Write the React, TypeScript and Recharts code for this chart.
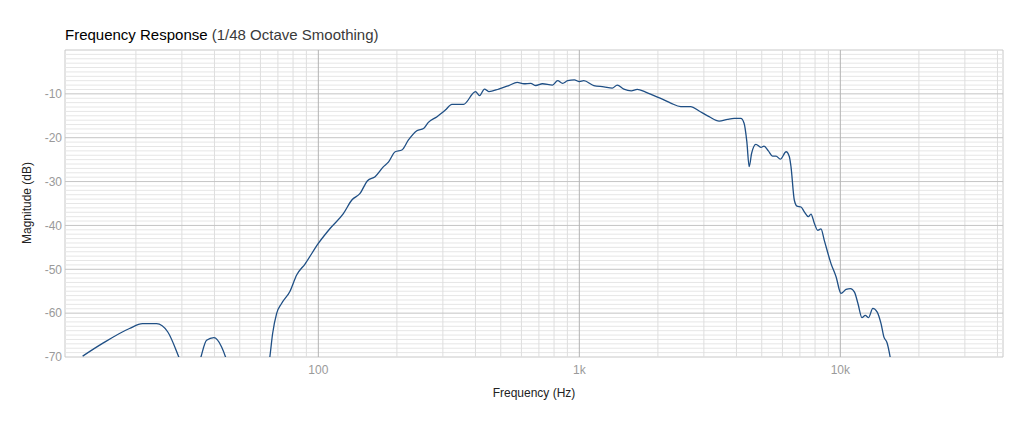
import { LineChart, Line, XAxis, YAxis, ReferenceLine, ReferenceArea } from 'recharts';

// Frequency points (Hz), 1/48 octave smoothed response
const FREQ_HZ = [
  12.5, 14.9, 18.9, 21.2, 24.0, 26.5, 29.2, 31, 34,
  35.5, 37.3, 39.8, 42.6, 44.1, 46, 63, 65.2, 66.8, 69.2,
  72.3, 77.9, 82.6, 88.9, 100, 110.9, 124.7, 134.4, 144.5, 154.3,
  165, 177.7, 185.9, 197, 209, 221.5, 238.5, 253, 264, 285,
  306.5, 325, 360, 400, 415, 433, 450, 491, 537, 578,
  614, 651, 681, 722, 789, 826, 863, 902, 957, 1000,
  1040, 1136, 1242, 1337, 1397, 1481, 1581, 1667, 1795, 1932,
  2080, 2240, 2447, 2675, 2877, 3143, 3433, 3697, 3920, 4156,
  4278, 4383, 4475, 4570, 4747, 4963, 5100, 5300, 5500, 5670,
  5890, 6200, 6375, 6470, 6662, 6825, 7070, 7280, 7540, 7720,
  7950, 8190, 8430, 8680, 9210, 9630, 10060, 10520, 10930, 11330,
  11680, 12100, 12460, 12830, 13320, 13830, 14320, 14680, 15110, 15520,
  15900,
];

// Magnitude (dB) for each frequency above
const MAGNITUDE_DB = [
  -69.8, -66.9, -63.5, -62.4, -62.4, -64.3, -70, -74, -74,
  -70, -66.2, -65.6, -67.7, -70, -74, -76, -70, -64.7, -60.1,
  -57.8, -55.0, -51.3, -48.8, -44.1, -40.7, -37.3, -34.2, -32.7, -29.8,
  -28.9, -26.6, -25.5, -23.2, -22.8, -20.5, -18.4, -17.9, -16.5, -15.2,
  -13.7, -12.4, -12.4, -9.5, -10.4, -8.9, -9.5, -8.9, -8.1, -7.4,
  -7.7, -7.6, -8.1, -7.7, -8.0, -7.0, -7.6, -7.0, -6.8, -7.2,
  -7.0, -8.1, -8.4, -8.7, -8.0, -8.9, -9.3, -9.0, -9.6, -10.4,
  -11.2, -12.1, -12.9, -12.9, -13.9, -15.2, -16.2, -15.8, -15.6, -15.6,
  -16.7, -20.9, -26.6, -23.6, -21.5, -22.2, -21.9, -23.0, -24.2, -24.2,
  -24.9, -23.2, -24.3, -26.6, -34.2, -35.6, -35.8, -36.9, -38.0, -37.4,
  -39.5, -41.1, -40.8, -43.4, -48.7, -51.7, -55.5, -54.6, -54.4, -55.2,
  -57.8, -61.0, -60.5, -61.0, -58.9, -59.7, -62.4, -65.4, -66.8, -70,
  -74,
];

const X_TICKS = [100, 1000, 10000];
const X_TICK_LABELS = ['100', '1k', '10k'];
const Y_TICKS = [-70, -60, -50, -40, -30, -20, -10];
const X_DOMAIN = [10.7, 42000];
const Y_DOMAIN = [-70, 0];

const data = FREQ_HZ.map((f, i) => ({ f, db: MAGNITUDE_DB[i] }));

// log grid: 2..9 in every decade, majors at the decades
const minorFreqs: number[] = [];
for (const dec of [10, 100, 1000, 10000]) {
  for (let m = 2; m <= 9; m++) minorFreqs.push(m * dec);
}
const minorDb: number[] = [];
for (let v = -69; v < 0; v++) if (v % 10 !== 0) minorDb.push(v);
const majorDb = [-60, -50, -40, -30, -20, -10];

const FONT = '"Liberation Sans", Arial, Helvetica, sans-serif';
const tickStyle = { fontSize: 12, fill: '#9a9a9a', fontFamily: FONT };

export default function App() {
  return (
    <div style={{ position: 'absolute', left: 0, top: 0, width: 1024, height: 427, background: '#fff', fontFamily: FONT }}>
      <div style={{ position: 'absolute', left: 65, top: 26, fontSize: 15, lineHeight: '17px', whiteSpace: 'nowrap', color: '#000' }}>
        Frequency Response <span style={{ color: '#3a3a3a' }}>(1/48 Octave Smoothing)</span>
      </div>
      <LineChart width={1024} height={427} data={data} margin={{ top: 50, right: 21, bottom: 0, left: 0 }}>
        <XAxis
          dataKey="f"
          type="number"
          scale="log"
          domain={X_DOMAIN}
          allowDataOverflow
          ticks={X_TICKS}
          tickFormatter={(v) => X_TICK_LABELS[X_TICKS.indexOf(v)] ?? String(v)}
          tick={tickStyle}
          tickLine={false}
          axisLine={false}
          tickSize={0}
          tickMargin={8}
          height={70}
        />
        <YAxis
          type="number"
          domain={Y_DOMAIN}
          allowDataOverflow
          ticks={Y_TICKS}
          tick={tickStyle}
          tickLine={false}
          axisLine={false}
          tickSize={0}
          tickMargin={3}
          width={65}
        />
        {minorDb.map((v) => (
          <ReferenceLine key={'hm' + v} y={v} stroke="#e6e6e6" strokeWidth={1} />
        ))}
        {minorFreqs.map((f) => (
          <ReferenceLine key={'vm' + f} x={f} stroke="#dedede" strokeWidth={1} />
        ))}
        {majorDb.map((v) => (
          <ReferenceLine key={'hM' + v} y={v} stroke="#c4c4c4" strokeWidth={1} />
        ))}
        {X_TICKS.map((f) => (
          <ReferenceLine key={'vM' + f} x={f} stroke="#b4b4b4" strokeWidth={1} />
        ))}
        <ReferenceArea
          x1={X_DOMAIN[0]}
          x2={X_DOMAIN[1]}
          y1={Y_DOMAIN[0]}
          y2={Y_DOMAIN[1]}
          fill="none"
          fillOpacity={0}
          stroke="#c8c8c8"
          strokeWidth={1}
        />
        <Line
          type="monotone"
          dataKey="db"
          stroke="#1f4f85"
          strokeWidth={1.3}
          dot={false}
          activeDot={false}
          isAnimationActive={false}
        />
      </LineChart>
      <div style={{ position: 'absolute', left: 534, top: 386, transform: 'translateX(-50%)', fontSize: 12, lineHeight: '14px', whiteSpace: 'nowrap', color: '#222' }}>
        Frequency (Hz)
      </div>
      <div style={{ position: 'absolute', left: 27, top: 203, transform: 'translate(-50%, -50%) rotate(-90deg)', fontSize: 12, lineHeight: '14px', whiteSpace: 'nowrap', color: '#222' }}>
        Magnitude (dB)
      </div>
    </div>
  );
}
